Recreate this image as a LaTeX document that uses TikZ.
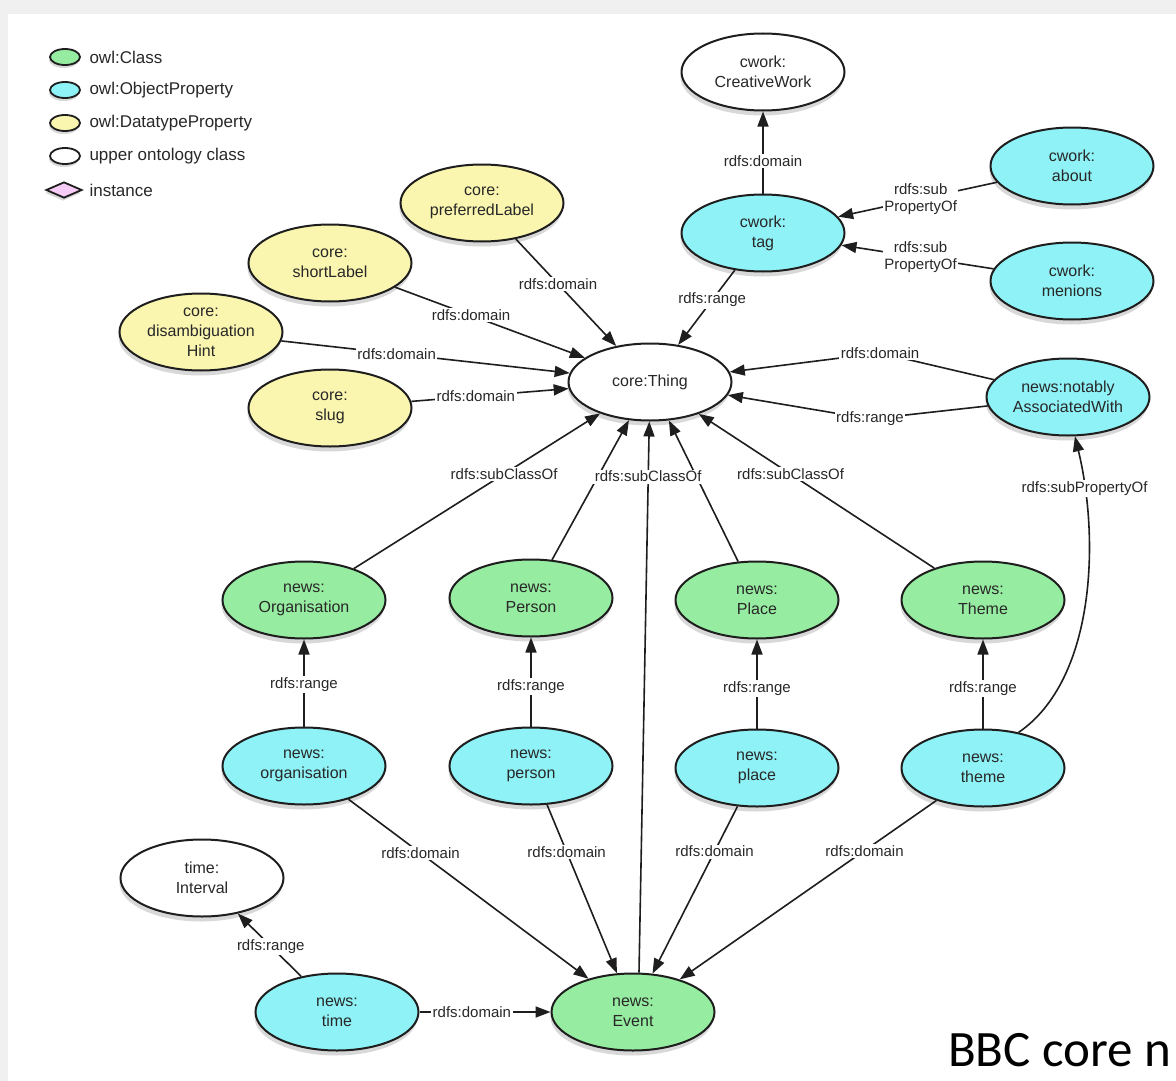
\documentclass[tikz,border=0pt]{standalone}
\usepackage{fontspec}
\setmainfont{Liberation Sans}
\newfontfamily\captionfont{Carlito}
\usetikzlibrary{arrows.meta,shapes.geometric,shadows}
\definecolor{clsgreen}{RGB}{150,236,160}
\definecolor{objcyan}{RGB}{142,242,246}
\definecolor{dtyellow}{RGB}{250,246,176}
\definecolor{instpink}{RGB}{246,204,246}
\definecolor{edgegray}{RGB}{30,30,30}
\definecolor{inkgray}{RGB}{40,40,40}
\definecolor{framegray}{RGB}{240,240,240}
\begin{document}
\begin{tikzpicture}[x=1pt,y=-1pt,
  onto/.style={ellipse, draw=edgegray, line width=2pt, minimum width=163pt, minimum height=77pt,
    inner sep=0pt, align=center, text=inkgray, font=\fontsize{16}{20}\selectfont,
    drop shadow={shadow xshift=-1pt, shadow yshift=-5pt, opacity=0.3}},
  cls/.style={onto, fill=clsgreen},
  objp/.style={onto, fill=objcyan},
  datap/.style={onto, fill=dtyellow},
  upper/.style={onto, fill=white},
  legmark/.style={ellipse, draw=edgegray, line width=1.8pt, minimum width=30pt, minimum height=16pt,
    inner sep=0pt, drop shadow={shadow xshift=-1pt, shadow yshift=-3pt, opacity=0.3}},
  legtext/.style={anchor=west, text=inkgray, font=\fontsize{17}{20}\selectfont},
  rel/.style={draw=edgegray, line width=1.6pt, -{Triangle[length=15pt,width=11pt]}},
  lbl/.style={fill=white, inner sep=1.5pt, align=center, text=inkgray, font=\fontsize{15}{17}\selectfont},
]
\useasboundingbox (0,0) rectangle (1176,1081);
\clip (0,0) rectangle (1176,1081);
\fill[framegray] (0,0) rectangle (1176,1081);
\fill[white] (8,14) rectangle (1176,1081);

\node[legmark, fill=clsgreen] (legcls) at (65,57) {};
\node[legmark, fill=objcyan] (legobj) at (65,90) {};
\node[legmark, fill=dtyellow] (legdt) at (65,123) {};
\node[legmark, fill=white] (legup) at (65,156) {};
\node[diamond, aspect=2.3, draw=edgegray, line width=1.8pt, fill=instpink, minimum width=36pt, minimum height=16pt,
  inner sep=0pt, drop shadow={shadow xshift=-1pt, shadow yshift=-3pt, opacity=0.3}] (leginst) at (64,190) {};
\node[legtext] (legclstext) at (86,57) {owl:Class};
\node[legtext] (legobjtext) at (86,90) {owl:ObjectProperty};
\node[legtext] (legdttext) at (86,123) {owl:DatatypeProperty};
\node[legtext] (leguptext) at (86,156) {upper ontology class};
\node[legtext] (leginsttext) at (86,190) {instance};

\node[upper] (cwork) at (763,72) {cwork:\\CreativeWork};
\node[objp] (tag) at (763,233) {cwork:\\tag};
\node[objp] (about) at (1072,166) {cwork:\\about};
\node[objp] (menions) at (1072,281) {cwork:\\menions};
\node[datap] (preflabel) at (482,203) {core:\\preferredLabel};
\node[datap] (shortlabel) at (330,263) {core:\\shortLabel};
\node[datap] (disambig) at (201,332) {core:\\disambiguation\\Hint};
\node[datap] (slug) at (330,408) {core:\\slug};
\node[upper] (thing) at (650,382) {core:Thing};
\node[objp] (notably) at (1068,397) {news:notably\\AssociatedWith};
\node[cls] (Org) at (304,600) {news:\\Organisation};
\node[cls] (Person) at (531,598) {news:\\Person};
\node[cls] (Place) at (757,600) {news:\\Place};
\node[cls] (Theme) at (983,600) {news:\\Theme};
\node[objp] (org) at (304,766) {news:\\organisation};
\node[objp] (person) at (531,766) {news:\\person};
\node[objp] (place) at (757,768) {news:\\place};
\node[objp] (theme) at (983,768) {news:\\theme};
\node[upper] (interval) at (202,878) {time:\\Interval};
\node[objp] (ntime) at (337,1012) {news:\\time};
\node[cls] (event) at (633,1012) {news:\\Event};

\coordinate (nabend) at (880,353);
\coordinate (nrbend) at (870,419);

\draw[rel] (tag) -- (cwork) node[lbl, pos=0.4] {rdfs:domain};
\draw[rel] (about) -- (tag) node[lbl, pos=0.48] {rdfs:sub\\PropertyOf};
\draw[rel] (menions) -- (tag) node[lbl, pos=0.48] {rdfs:sub\\PropertyOf};
\draw[rel] (tag) -- (thing) node[lbl, pos=0.4] {rdfs:range};
\draw[rel] (preflabel) -- (thing) node[lbl, pos=0.42] {rdfs:domain};
\draw[rel] (shortlabel) -- (thing) node[lbl, pos=0.4] {rdfs:domain};
\draw[rel] (disambig) -- (thing) node[lbl, pos=0.4] {rdfs:domain};
\draw[rel] (slug) -- (thing) node[lbl, pos=0.41] {rdfs:domain};
\draw[rel] (notably) -- (nabend) -- (thing);
\node[lbl] (nadomain) at (nabend) {rdfs:domain};
\draw[rel] (notably) -- (nrbend) -- (thing);
\node[lbl] (narange) at (nrbend) {rdfs:range};
\draw[rel] (Org) -- (thing) node[lbl, pos=0.61] {rdfs:subClassOf};
\draw[rel] (Person) -- (thing);
\draw[rel] (Place) -- (thing);
\draw[rel] ([xshift=6pt]event.north) -- (thing) node[lbl, pos=0.9] {rdfs:subClassOf};
\draw[rel] (Theme) -- (thing) node[lbl, pos=0.61] {rdfs:subClassOf};
\draw[rel] (theme.45) .. controls (1095,680) and (1100,540) .. (notably.-80) node[lbl, pos=0.84] {rdfs:subPropertyOf};
\draw[rel] (org) -- (Org) node[lbl, pos=0.48] {rdfs:range};
\draw[rel] (person) -- (Person) node[lbl, pos=0.45] {rdfs:range};
\draw[rel] (place) -- (Place) node[lbl, pos=0.45] {rdfs:range};
\draw[rel] (theme) -- (Theme) node[lbl, pos=0.45] {rdfs:range};
\draw[rel] (org) -- (event) node[lbl, pos=0.3] {rdfs:domain};
\draw[rel] (person) -- (event) node[lbl, pos=0.28] {rdfs:domain};
\draw[rel] (place) -- (event) node[lbl, pos=0.27] {rdfs:domain};
\draw[rel] (theme) -- (event) node[lbl, pos=0.28] {rdfs:domain};
\draw[rel] (ntime) -- (interval) node[lbl, pos=0.48] {rdfs:range};
\draw[rel] (ntime) -- (event) node[lbl, pos=0.4] {rdfs:domain};

\node[anchor=base west, inner sep=0pt, font=\captionfont\fontsize{51}{60}\selectfont] (caption) at (948,1066) {BBC core n};
\end{tikzpicture}
\end{document}
